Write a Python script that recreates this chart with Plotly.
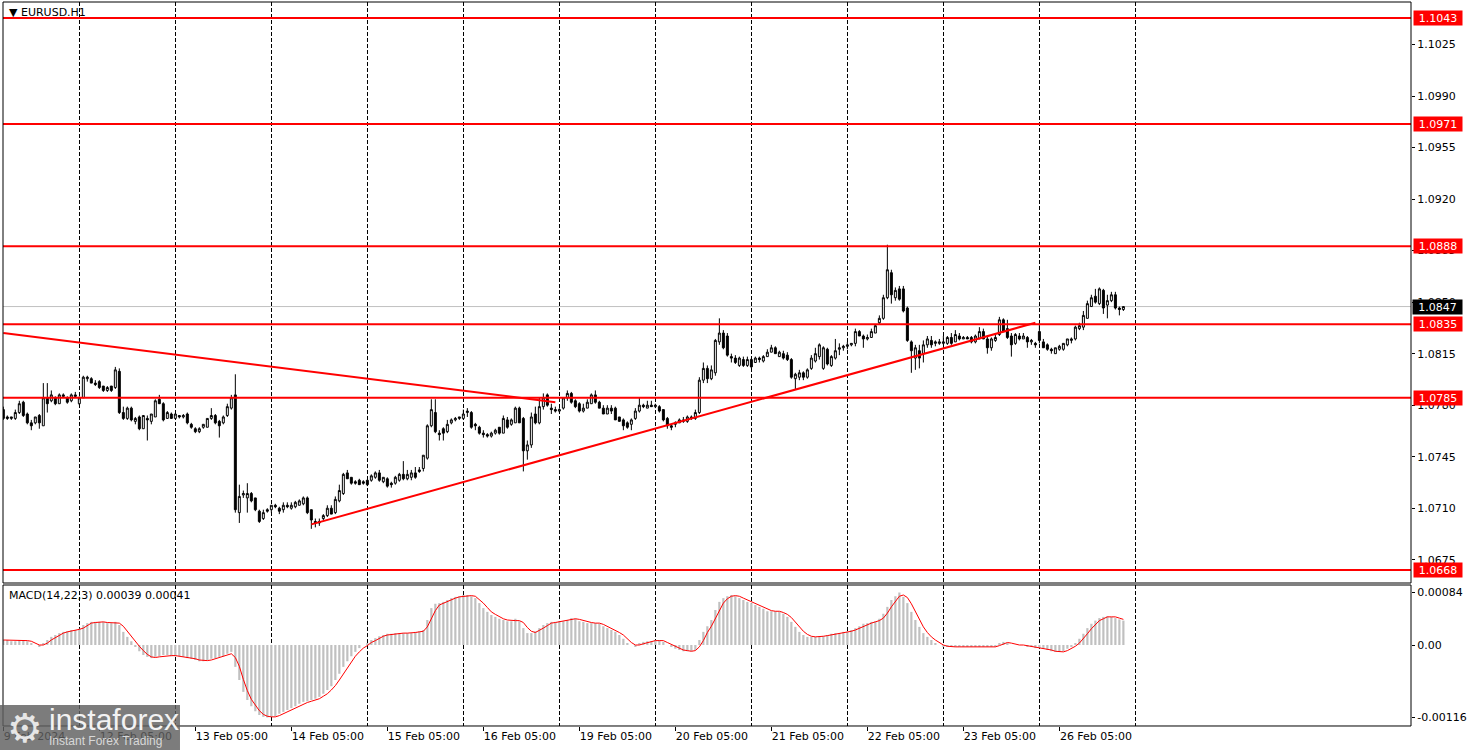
import plotly.graph_objects as go

symbol_label = "EURUSD.H1"
macd_label = "MACD(14,22,3) 0.00039 0.00041"

open_ = [
    1.0777,1.0772,1.0771,1.0771,1.0775,1.0782,1.0774,1.0768,1.0768,1.0773,
    1.0766,1.0785,1.0783,1.0785,1.0781,1.0787,1.0785,1.0783,1.0787,1.0781,
    1.0785,1.0798,1.0798,1.0795,1.0796,1.0793,1.0790,1.0793,1.0792,1.0803,
    1.0775,1.0771,1.0778,1.0769,1.0772,1.0764,1.0771,1.0769,1.0772,1.0784,
    1.0781,1.0771,1.0774,1.0771,1.0773,1.0772,1.0774,1.0767,1.0764,1.0762,
    1.0765,1.0765,1.0771,1.0773,1.0769,1.0768,1.0773,1.0778,1.0787,1.0707,
    1.0719,1.0717,1.0720,1.0717,1.0708,1.0703,1.0709,1.0709,1.0712,1.0710,
    1.0709,1.0712,1.0710,1.0711,1.0712,1.0713,1.0717,1.0709,1.0701,1.0700,
    1.0703,1.0705,1.0710,1.0707,1.0715,1.0720,1.0734,1.0731,1.0728,1.0729,
    1.0728,1.0729,1.0729,1.0731,1.0734,1.0728,1.0730,1.0727,1.0727,1.0729,
    1.0733,1.0730,1.0731,1.0734,1.0736,1.0737,1.0744,1.0766,1.0775,1.0761,
    1.0764,1.0762,1.0768,1.0770,1.0771,1.0771,1.0775,1.0775,1.0767,1.0765,
    1.0761,1.0760,1.0759,1.0761,1.0765,1.0761,1.0770,1.0767,1.0768,1.0778,
    1.0771,1.0749,1.0753,1.0774,1.0768,1.0779,1.0787,1.0778,1.0777,1.0776,
    1.0778,1.0785,1.0788,1.0783,1.0781,1.0776,1.0778,1.0781,1.0787,1.0782,
    1.0778,1.0774,1.0778,1.0778,1.0772,1.0770,1.0768,1.0767,1.0771,1.0776,
    1.0780,1.0778,1.0780,1.0779,1.0779,1.0777,1.0771,1.0766,1.0767,1.0768,
    1.0770,1.0769,1.0772,1.0771,1.0775,1.0797,1.0805,1.0798,1.0802,1.0823,
    1.0829,1.0827,1.0813,1.0812,1.0807,1.0811,1.0807,1.0811,1.0809,1.0812,
    1.0810,1.0813,1.0816,1.0819,1.0813,1.0815,1.0814,1.0811,1.0798,1.0799,
    1.0802,1.0799,1.0805,1.0810,1.0813,1.0805,1.0818,1.0807,1.0812,1.0818,
    1.0819,1.0820,1.0821,1.0822,1.0830,1.0827,1.0825,1.0826,1.0829,1.0836,
    1.0839,1.0853,1.0870,1.0853,1.0859,1.0859,1.0846,1.0823,1.0812,1.0817,
    1.0815,1.0821,1.0824,1.0822,1.0822,1.0822,1.0822,1.0826,1.0823,1.0827,
    1.0825,1.0826,1.0826,1.0823,1.0825,1.0830,1.0825,1.0819,1.0824,1.0828,
    1.0838,1.0832,1.0827,1.0822,1.0827,1.0825,1.0826,1.0823,1.0822,1.0830,
    1.0823,1.0821,1.0818,1.0815,1.0818,1.0818,1.0821,1.0824,1.0825,1.0832,
    1.0833,1.0839,1.0847,1.0854,1.0849,1.0858,1.0848,1.0851,1.0855,1.0846,1.0845,
]
high = [
    1.0779,1.0773,1.0772,1.0777,1.0783,1.0783,1.0775,1.0770,1.0772,1.0774,
    1.0795,1.0795,1.0790,1.0786,1.0788,1.0788,1.0786,1.0788,1.0789,1.0786,
    1.0800,1.0800,1.0799,1.0797,1.0797,1.0793,1.0793,1.0793,1.0806,1.0805,
    1.0779,1.0779,1.0779,1.0772,1.0773,1.0773,1.0773,1.0774,1.0784,1.0787,
    1.0782,1.0776,1.0775,1.0774,1.0773,1.0774,1.0775,1.0768,1.0765,1.0765,
    1.0767,1.0771,1.0778,1.0774,1.0770,1.0773,1.0781,1.0787,1.0801,1.0726,
    1.0722,1.0727,1.0721,1.0717,1.0709,1.0709,1.0710,1.0712,1.0713,1.0711,
    1.0714,1.0714,1.0714,1.0715,1.0716,1.0718,1.0718,1.0709,1.0703,1.0703,
    1.0706,1.0712,1.0712,1.0718,1.0726,1.0734,1.0736,1.0731,1.0729,1.0730,
    1.0729,1.0729,1.0733,1.0735,1.0736,1.0731,1.0731,1.0728,1.0732,1.0734,
    1.0742,1.0736,1.0736,1.0738,1.0738,1.0746,1.0767,1.0784,1.0784,1.0763,
    1.0765,1.0770,1.0771,1.0772,1.0772,1.0777,1.0778,1.0776,1.0768,1.0766,
    1.0763,1.0761,1.0762,1.0764,1.0765,1.0773,1.0772,1.0771,1.0779,1.0779,
    1.0772,1.0756,1.0775,1.0779,1.0785,1.0788,1.0788,1.0781,1.0779,1.0778,
    1.0785,1.0790,1.0789,1.0784,1.0782,1.0781,1.0784,1.0788,1.0790,1.0783,
    1.0780,1.0780,1.0780,1.0779,1.0772,1.0771,1.0769,1.0771,1.0778,1.0785,
    1.0781,1.0783,1.0783,1.0781,1.0780,1.0777,1.0772,1.0767,1.0769,1.0771,
    1.0772,1.0773,1.0773,1.0777,1.0799,1.0809,1.0807,1.0807,1.0825,1.0839,
    1.0831,1.0829,1.0815,1.0814,1.0813,1.0813,1.0813,1.0812,1.0813,1.0813,
    1.0814,1.0818,1.0821,1.0820,1.0817,1.0817,1.0816,1.0812,1.0802,1.0804,
    1.0803,1.0805,1.0814,1.0819,1.0822,1.0820,1.0819,1.0814,1.0825,1.0822,
    1.0821,1.0823,1.0822,1.0832,1.0831,1.0828,1.0828,1.0832,1.0835,1.0841,
    1.0855,1.0889,1.0872,1.0860,1.0861,1.0861,1.0847,1.0824,1.0821,1.0821,
    1.0824,1.0827,1.0827,1.0824,1.0825,1.0827,1.0827,1.0829,1.0831,1.0829,
    1.0827,1.0827,1.0827,1.0828,1.0833,1.0832,1.0827,1.0826,1.0829,1.0840,
    1.0839,1.0838,1.0829,1.0829,1.0829,1.0829,1.0827,1.0825,1.0823,1.0836,
    1.0825,1.0822,1.0819,1.0819,1.0821,1.0822,1.0825,1.0826,1.0834,1.0836,
    1.0844,1.0851,1.0855,1.0859,1.0860,1.0859,1.0855,1.0857,1.0857,1.0847,1.0847,
]
low = [
    1.0770,1.0770,1.0770,1.0770,1.0774,1.0772,1.0767,1.0763,1.0767,1.0764,
    1.0766,1.0775,1.0782,1.0780,1.0781,1.0786,1.0781,1.0782,1.0785,1.0780,
    1.0785,1.0796,1.0795,1.0793,1.0791,1.0789,1.0789,1.0789,1.0791,1.0774,
    1.0770,1.0770,1.0769,1.0767,1.0763,1.0764,1.0756,1.0767,1.0772,1.0781,
    1.0769,1.0771,1.0771,1.0771,1.0771,1.0771,1.0767,1.0764,1.0761,1.0761,
    1.0764,1.0765,1.0770,1.0767,1.0758,1.0767,1.0772,1.0777,1.0707,1.0700,
    1.0717,1.0707,1.0714,1.0708,1.0700,1.0702,1.0707,1.0707,1.0710,1.0706,
    1.0707,1.0710,1.0709,1.0710,1.0712,1.0712,1.0706,1.0696,1.0697,1.0698,
    1.0702,1.0704,1.0706,1.0706,1.0714,1.0719,1.0730,1.0726,1.0726,1.0726,
    1.0726,1.0725,1.0728,1.0730,1.0728,1.0727,1.0724,1.0724,1.0726,1.0728,
    1.0729,1.0729,1.0729,1.0730,1.0734,1.0735,1.0743,1.0765,1.0761,1.0756,
    1.0756,1.0761,1.0767,1.0769,1.0770,1.0770,1.0772,1.0764,1.0763,1.0760,
    1.0758,1.0758,1.0758,1.0760,1.0760,1.0761,1.0764,1.0766,1.0768,1.0768,
    1.0735,1.0743,1.0751,1.0767,1.0767,1.0777,1.0779,1.0774,1.0775,1.0775,
    1.0777,1.0783,1.0781,1.0778,1.0775,1.0775,1.0778,1.0781,1.0781,1.0778,
    1.0774,1.0774,1.0774,1.0770,1.0769,1.0763,1.0764,1.0763,1.0770,1.0775,
    1.0778,1.0778,1.0779,1.0778,1.0775,1.0769,1.0764,1.0763,1.0765,1.0768,
    1.0768,1.0768,1.0770,1.0770,1.0774,1.0795,1.0795,1.0797,1.0800,1.0821,
    1.0818,1.0813,1.0809,1.0808,1.0806,1.0806,1.0806,1.0805,1.0809,1.0809,
    1.0809,1.0813,1.0816,1.0815,1.0813,1.0811,1.0810,1.0798,1.0791,1.0797,
    1.0797,1.0798,1.0804,1.0809,1.0811,1.0804,1.0807,1.0806,1.0811,1.0814,
    1.0817,1.0818,1.0820,1.0820,1.0827,1.0819,1.0824,1.0826,1.0829,1.0835,
    1.0838,1.0852,1.0849,1.0851,1.0851,1.0843,1.0823,1.0802,1.0804,1.0805,
    1.0809,1.0819,1.0819,1.0820,1.0821,1.0821,1.0821,1.0821,1.0823,1.0824,
    1.0825,1.0825,1.0822,1.0822,1.0825,1.0825,1.0815,1.0817,1.0823,1.0827,
    1.0830,1.0825,1.0813,1.0821,1.0824,1.0825,1.0819,1.0821,1.0819,1.0822,
    1.0819,1.0817,1.0815,1.0815,1.0817,1.0817,1.0820,1.0822,1.0824,1.0831,
    1.0831,1.0839,1.0847,1.0849,1.0848,1.0842,1.0839,1.0850,1.0845,1.0841,1.0844,
]
close = [
    1.0771,1.0771,1.0772,1.0775,1.0781,1.0773,1.0768,1.0766,1.0772,1.0768,
    1.0785,1.0781,1.0787,1.0781,1.0787,1.0786,1.0782,1.0787,1.0786,1.0785,
    1.0799,1.0799,1.0795,1.0794,1.0792,1.0790,1.0792,1.0790,1.0804,1.0775,
    1.0771,1.0778,1.0770,1.0771,1.0764,1.0773,1.0770,1.0774,1.0783,1.0781,
    1.0770,1.0775,1.0771,1.0774,1.0772,1.0773,1.0768,1.0765,1.0762,1.0764,
    1.0767,1.0771,1.0773,1.0768,1.0766,1.0772,1.0779,1.0785,1.0709,1.0718,
    1.0720,1.0720,1.0715,1.0709,1.0701,1.0707,1.0708,1.0712,1.0711,1.0708,
    1.0712,1.0711,1.0712,1.0714,1.0715,1.0717,1.0707,1.0702,1.0700,1.0701,
    1.0705,1.0710,1.0706,1.0716,1.0722,1.0733,1.0730,1.0727,1.0727,1.0726,
    1.0727,1.0726,1.0732,1.0734,1.0729,1.0731,1.0725,1.0726,1.0731,1.0733,
    1.0730,1.0733,1.0734,1.0731,1.0735,1.0746,1.0766,1.0777,1.0762,1.0760,
    1.0761,1.0767,1.0770,1.0771,1.0772,1.0774,1.0776,1.0765,1.0766,1.0761,
    1.0760,1.0759,1.0761,1.0763,1.0761,1.0771,1.0765,1.0770,1.0778,1.0768,
    1.0749,1.0753,1.0772,1.0768,1.0779,1.0785,1.0780,1.0777,1.0776,1.0777,
    1.0785,1.0788,1.0782,1.0779,1.0776,1.0778,1.0782,1.0787,1.0782,1.0778,
    1.0774,1.0778,1.0776,1.0770,1.0769,1.0766,1.0765,1.0770,1.0776,1.0780,
    1.0779,1.0780,1.0779,1.0780,1.0776,1.0770,1.0766,1.0765,1.0768,1.0770,
    1.0769,1.0772,1.0771,1.0775,1.0797,1.0805,1.0798,1.0804,1.0824,1.0829,
    1.0819,1.0814,1.0812,1.0809,1.0812,1.0807,1.0811,1.0806,1.0812,1.0811,
    1.0813,1.0816,1.0819,1.0815,1.0816,1.0812,1.0811,1.0799,1.0801,1.0802,
    1.0799,1.0804,1.0812,1.0815,1.0821,1.0819,1.0808,1.0813,1.0817,1.0819,
    1.0820,1.0821,1.0822,1.0830,1.0827,1.0825,1.0826,1.0830,1.0834,1.0839,
    1.0853,1.0872,1.0855,1.0858,1.0852,1.0844,1.0824,1.0817,1.0819,1.0812,
    1.0821,1.0825,1.0821,1.0823,1.0823,1.0823,1.0826,1.0822,1.0828,1.0825,
    1.0826,1.0825,1.0823,1.0827,1.0830,1.0825,1.0819,1.0825,1.0826,1.0838,
    1.0830,1.0826,1.0821,1.0828,1.0825,1.0827,1.0823,1.0824,1.0821,1.0824,
    1.0819,1.0818,1.0817,1.0819,1.0820,1.0822,1.0825,1.0825,1.0833,1.0834,
    1.0841,1.0849,1.0853,1.0850,1.0859,1.0846,1.0851,1.0855,1.0846,1.0845,1.0847,
]

# MACD values in points (1 point = 0.00001)
macd_main_pts = [
    8,8,6,6,8,8,6,3,0,-2,
    2,8,13,16,19,21,22,24,24,26,
    32,35,37,37,37,37,35,35,37,32,
    21,13,6,-2,-10,-16,-19,-21,-19,-18,
    -16,-16,-18,-18,-18,-19,-21,-22,-24,-26,
    -26,-24,-22,-21,-19,-18,-14,-11,-35,-56,
    -75,-88,-98,-106,-112,-115,-116,-115,-114,-110,
    -107,-104,-101,-98,-94,-91,-90,-88,-86,-83,
    -78,-72,-66,-56,-46,-35,-26,-18,-11,-5,
    0,3,8,11,14,16,18,18,19,19,
    19,19,19,21,22,24,40,59,66,67,
    69,72,75,77,78,80,80,78,75,67,
    59,53,48,45,42,40,38,38,42,38,
    27,19,19,22,27,32,35,37,37,38,
    38,40,43,42,38,37,35,35,35,34,
    30,27,24,21,16,10,3,0,-2,2,
    5,6,6,8,8,5,0,-3,-6,-8,
    -10,-10,-10,-8,8,21,30,40,56,69,
    75,78,80,78,75,72,69,67,64,61,
    58,54,54,54,53,50,45,37,29,21,
    16,13,13,13,14,14,16,18,19,19,
    21,21,24,27,30,34,35,37,38,42,
    50,61,72,78,84,77,67,53,40,29,
    19,13,8,3,0,-2,-3,-3,-3,-3,
    -3,-3,-3,-3,-2,-2,-3,-3,-2,3,
    5,3,0,0,0,0,-2,-3,-5,-5,
    -6,-8,-10,-11,-11,-10,-6,-3,3,10,
    18,27,34,39,43,45,46,45,43,41,39,
]
macd_signal_pts = [
    8,8,7,7,7,7,7,6,3,0,
    0,3,8,12,16,19,21,22,23,25,
    27,31,35,36,37,37,36,36,36,35,
    30,22,13,6,-2,-9,-15,-19,-20,-19,
    -18,-17,-17,-17,-18,-18,-19,-21,-22,-24,
    -25,-25,-24,-22,-21,-19,-17,-14,-20,-34,
    -55,-73,-87,-97,-105,-111,-114,-115,-115,-113,
    -110,-107,-104,-101,-98,-94,-92,-90,-88,-86,
    -82,-78,-72,-65,-56,-46,-36,-26,-18,-11,
    -5,-1,4,7,11,14,16,17,18,19,
    19,19,19,20,21,22,29,41,55,64,
    67,69,72,75,77,78,79,79,78,73,
    67,60,53,49,45,42,40,39,39,39,
    36,28,22,20,23,27,31,35,36,37,
    38,39,40,42,41,39,37,36,35,35,
    33,30,27,24,20,16,10,4,0,0,
    2,4,6,7,7,7,4,1,-3,-6,
    -8,-9,-10,-9,-3,7,20,30,42,55,
    67,74,78,79,78,75,72,69,67,64,
    61,58,55,54,54,52,49,44,37,29,
    22,17,14,13,13,14,15,16,18,19,
    20,20,22,24,27,30,33,35,37,39,
    43,51,61,70,78,80,76,66,53,41,
    29,20,13,8,4,0,-2,-3,-3,-3,
    -3,-3,-3,-3,-3,-2,-2,-3,-3,-1,
    2,4,3,1,0,0,-1,-2,-3,-4,
    -5,-6,-8,-10,-11,-11,-9,-6,-2,3,
    10,18,26,33,39,42,45,45,45,43,41,
]

bars = list(range(len(close)))
day_start_bars = [19, 43, 67, 91, 115, 139, 163, 187, 211, 235, 259, 283]
tick_bars = [0, 24, 48, 72, 96, 120, 144, 168, 192, 216, 240, 264]
tick_text = ["9 Feb 2024", "12 Feb 05:00", "13 Feb 05:00", "14 Feb 05:00",
             "15 Feb 05:00", "16 Feb 05:00", "19 Feb 05:00", "20 Feb 05:00",
             "21 Feb 05:00", "22 Feb 05:00", "23 Feb 05:00", "26 Feb 05:00"]
levels = [1.1043, 1.0971, 1.0888, 1.0835, 1.0785, 1.0668]
price_ticks = [1.0675, 1.0710, 1.0745, 1.0780, 1.0815, 1.0850,
               1.0885, 1.0920, 1.0955, 1.0990, 1.1025]
trend_down_bars = [0, 138]
trend_down_prices = [1.0829, 1.0782]
trend_up_bars = [77, 258]
trend_up_prices = [1.0699, 1.0836]
macd_ticks = [0.00084, 0.0, -0.00116]
macd_ticktext = ["0.00084", "0.00", "-0.00116"]

FONT = "DejaVu Sans"
PT = 0.00001

fig = go.Figure()
fig.add_trace(go.Candlestick(
    x=bars, open=open_, high=high, low=low, close=close,
    increasing=dict(fillcolor="white", line=dict(color="black", width=1)),
    decreasing=dict(fillcolor="black", line=dict(color="black", width=1)),
    whiskerwidth=0, hoverinfo="skip", showlegend=False,
    xaxis="x", yaxis="y"))
fig.add_trace(go.Scatter(x=trend_down_bars, y=trend_down_prices, mode="lines",
                         line=dict(color="#FF0000", width=2), hoverinfo="skip",
                         showlegend=False, xaxis="x", yaxis="y"))
fig.add_trace(go.Scatter(x=trend_up_bars, y=trend_up_prices, mode="lines",
                         line=dict(color="#FF0000", width=2), hoverinfo="skip",
                         showlegend=False, xaxis="x", yaxis="y"))
fig.add_trace(go.Bar(x=bars, y=[v * PT for v in macd_main_pts],
                     marker=dict(color="#C0C0C0", line=dict(width=0)),
                     width=0.55, hoverinfo="skip", showlegend=False,
                     xaxis="x", yaxis="y2"))
fig.add_trace(go.Scatter(x=bars, y=[v * PT for v in macd_signal_pts], mode="lines",
                         line=dict(color="#FF0000", width=1), hoverinfo="skip",
                         showlegend=False, xaxis="x", yaxis="y2"))

shapes = []
# current price line
shapes.append(dict(type="line", xref="x domain", x0=0, x1=1, yref="y",
                   y0=close[-1], y1=close[-1], line=dict(color="#C0C0C0", width=1),
                   layer="below"))
for lv in levels:
    shapes.append(dict(type="line", xref="x domain", x0=0, x1=1, yref="y",
                       y0=lv, y1=lv, line=dict(color="#FF0000", width=2)))
# panel frames
shapes.append(dict(type="rect", xref="x domain", yref="y domain", x0=0, x1=1, y0=0, y1=1,
                   line=dict(color="black", width=1)))
shapes.append(dict(type="rect", xref="x domain", yref="y2 domain", x0=0, x1=1, y0=0, y1=1,
                   line=dict(color="black", width=1)))
# watermark box
shapes.append(dict(type="rect", xref="paper", yref="paper", x0=-0.0022, x1=0.1257,
                   y0=-0.032, y1=0.0303, line=dict(width=0),
                   fillcolor="rgba(95,95,95,0.82)", layer="above"))

annotations = []
for lv in levels:
    annotations.append(dict(x=1, xref="paper", xanchor="left", xshift=2,
                            y=lv, yref="y", yanchor="middle", text=f"{lv:.4f}",
                            showarrow=False, bgcolor="#FF0000", width=46, height=12,
                            borderpad=1, font=dict(family=FONT, size=11, color="white")))
annotations.append(dict(x=1, xref="paper", xanchor="left", xshift=1,
                        y=close[-1], yref="y", yanchor="middle", text=f"{close[-1]:.4f}",
                        showarrow=False, bgcolor="black", width=47, height=12,
                        borderpad=1, font=dict(family=FONT, size=11, color="white")))
annotations.append(dict(x=0.0028, xref="paper", xanchor="left", y=0.9862, yref="paper",
                        yanchor="middle", text="\u25BC " + symbol_label, showarrow=False,
                        font=dict(family=FONT, size=11, color="black")))
annotations.append(dict(x=0.0028, xref="paper", xanchor="left", y=0.1807, yref="paper",
                        yanchor="middle", text=macd_label, showarrow=False,
                        font=dict(family=FONT, size=11, color="black")))
annotations.append(dict(x=0.0015, xref="paper", xanchor="left", y=-0.001, yref="paper",
                        yanchor="middle", text="\u2699", showarrow=False,
                        font=dict(family=FONT, size=40, color="#E6E6E6")))
annotations.append(dict(x=0.031, xref="paper", xanchor="left", y=0.011, yref="paper",
                        yanchor="middle", text="instaforex", showarrow=False,
                        font=dict(family="Liberation Sans", size=30, color="#F2F2F2")))
annotations.append(dict(x=0.031, xref="paper", xanchor="left", y=-0.0195, yref="paper",
                        yanchor="middle", text="Instant Forex Trading", showarrow=False,
                        font=dict(family="Liberation Sans", size=12, color="#D8D8D8")))

fig.update_layout(
    width=1468, height=750,
    margin=dict(l=3, r=57, t=2, b=23),
    paper_bgcolor="white", plot_bgcolor="white",
    showlegend=False, boxgap=0.3, boxgroupgap=0.3,
    font=dict(family=FONT, size=11, color="black"),
    shapes=shapes, annotations=annotations,
    xaxis=dict(range=[-0.08, 351.9], anchor="y2", domain=[0, 1],
               tickmode="array", tickvals=tick_bars, ticktext=tick_text,
               ticks="outside", ticklen=4, tickcolor="black",
               ticklabelposition="outside right",
               showgrid=False, zeroline=False, showline=False,
               minor=dict(tickmode="array", tickvals=day_start_bars, showgrid=True,
                          gridcolor="black", griddash="4px,2px", gridwidth=1, ticks=""),
               rangeslider=dict(visible=False), fixedrange=True,
               tickfont=dict(family=FONT, size=11, color="black")),
    yaxis=dict(domain=[0.19862, 1], range=[1.06592, 1.10539], side="right", anchor="x",
               tickmode="array", tickvals=price_ticks, tickformat=".4f",
               ticks="outside", ticklen=3, tickcolor="black",
               showgrid=False, zeroline=False, showline=False, fixedrange=True,
               tickfont=dict(family=FONT, size=11, color="black")),
    yaxis2=dict(domain=[0.00138, 0.19586], range=[-0.001296, 0.00096], side="right", anchor="x",
                tickmode="array", tickvals=macd_ticks, ticktext=macd_ticktext,
                ticks="outside", ticklen=3, tickcolor="black",
                showgrid=False, zeroline=False, showline=False, fixedrange=True,
                tickfont=dict(family=FONT, size=11, color="black")),
)

fig.write_html("out.html")
